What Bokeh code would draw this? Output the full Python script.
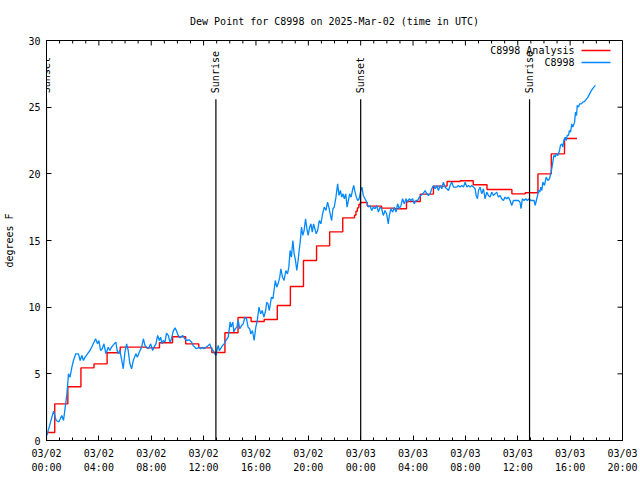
import math
from bokeh.plotting import figure
from bokeh.models import FixedTicker, Range1d, LabelSet, ColumnDataSource
from bokeh.core.properties import value
from bokeh.embed import file_html
from bokeh.resources import INLINE

FONT = "DejaVu Sans Mono"

title_text = "Dew Point for C8998 on 2025-Mar-02 (time in UTC)"
y_label = "degrees F"

# hours since 2025-03-02 00:00 UTC
tick_hours = [0, 4, 8, 12, 16, 20, 24, 28, 32, 36, 40, 44]
tick_labels = ["03/02\n00:00", "03/02\n04:00", "03/02\n08:00", "03/02\n12:00",
               "03/02\n16:00", "03/02\n20:00", "03/03\n00:00", "03/03\n04:00",
               "03/03\n08:00", "03/03\n12:00", "03/03\n16:00", "03/03\n20:00"]
minor_hours = list(range(0, 45))
y_ticks = [0, 5, 10, 15, 20, 25, 30]

event_hours = [0.0, 12.94, 24.0, 36.9]
event_names = ["Sunset", "Sunrise", "Sunset", "Sunrise"]

analysis_hours = [0.0, 0.63, 1.63, 2.63, 3.63, 4.63, 5.63, 6.63, 7.63, 8.63, 9.63,
                  10.63, 11.63, 12.63, 13.63, 14.63, 15.63, 16.63, 17.63, 18.63,
                  19.63, 20.63, 21.63, 22.63, 23.53, 23.64, 23.75, 23.86, 23.97,
                  24.5, 25.6, 26.5, 27.5, 28.55, 29.56, 30.6, 31.6, 32.6, 33.65,
                  34.6, 35.55, 36.57, 37.54, 38.56, 39.57, 40.52]
analysis_dewpt = [0.6, 2.75, 4.03, 5.45, 5.75, 6.58, 7.0, 7.0, 6.95, 7.33, 7.78,
                  7.25, 6.95, 6.6, 8.08, 9.23, 8.93, 9.08, 10.13, 11.55,
                  13.5, 14.6, 15.65, 16.7, 16.9, 17.2, 17.45, 17.7, 17.85,
                  17.58, 17.43, 17.38, 17.93, 18.48, 19.08, 19.43, 19.48, 19.18, 18.83,
                  18.83, 18.5, 18.58, 20.0, 21.5, 22.65, 22.65]

obs_hours = [0.03, 0.54, 0.74, 0.95, 1.17, 1.3, 1.43, 1.56, 1.68, 1.8, 1.94, 2.06,
             2.24, 2.44, 2.57, 2.7, 2.82, 2.95, 3.13, 3.32, 3.45, 3.57, 3.75, 3.9,
             4.0, 4.13, 4.26, 4.39, 4.54, 4.72, 4.84, 4.97, 5.17, 5.3, 5.4, 5.48,
             5.6, 5.73, 5.86, 5.99, 6.12, 6.24, 6.37, 6.5, 6.63, 6.83, 6.94, 7.14,
             7.27, 7.4, 7.52, 7.65, 7.78, 7.96, 8.11, 8.21, 8.36, 8.49, 8.62, 8.72,
             8.82, 8.92, 9.05, 9.17, 9.3, 9.43, 9.55, 9.68, 9.81, 9.94, 10.06, 10.19,
             10.4, 10.57, 10.7, 10.9, 11.08, 11.2, 11.33, 11.46, 11.64, 11.77, 11.92,
             12.02, 12.18, 12.36, 12.48, 12.6, 12.73, 12.86, 12.94, 13.04, 13.12,
             13.2, 13.3, 13.45, 13.58, 13.7, 13.88, 14.03, 14.1, 14.23, 14.31, 14.42,
             14.54, 14.64, 14.77, 14.9, 15.03, 15.15, 15.28, 15.4, 15.53, 15.6,
             15.73, 15.86, 15.99, 16.1, 16.23, 16.36, 16.48, 16.61, 16.74, 16.82,
             16.92, 17.02, 17.18, 17.3, 17.38, 17.48, 17.59, 17.69, 17.82, 17.9,
             18.03, 18.15, 18.28, 18.41, 18.51, 18.61, 18.71, 18.82, 18.92, 19.02,
             19.12, 19.22, 19.3, 19.38, 19.48, 19.58, 19.68, 19.79, 19.89, 19.99,
             20.1, 20.2, 20.3, 20.4, 20.5, 20.6, 20.71, 20.84, 20.96, 21.09, 21.22,
             21.35, 21.47, 21.57, 21.67, 21.78, 21.88, 21.98, 22.11, 22.24, 22.34,
             22.45, 22.55, 22.65, 22.75, 22.86, 22.96, 23.06, 23.16, 23.27, 23.37,
             23.47, 23.57, 23.67, 23.78, 23.88, 23.98, 24.1, 24.2, 24.33, 24.46,
             24.59, 24.71, 24.84, 24.97, 25.1, 25.22, 25.35, 25.48, 25.6, 25.73,
             25.86, 25.98, 26.11, 26.19, 26.31, 26.44, 26.57, 26.7, 26.82, 26.95,
             27.08, 27.2, 27.33, 27.46, 27.58, 27.71, 27.84, 27.97, 28.09, 28.22,
             28.35, 28.48, 28.6, 28.73, 28.84, 28.92, 29.05, 29.18, 29.3, 29.43,
             29.56, 29.69, 29.81, 29.94, 30.07, 30.2, 30.32, 30.45, 30.58, 30.71,
             30.83, 30.96, 31.09, 31.22, 31.34, 31.47, 31.6, 31.73, 31.85, 31.98,
             32.11, 32.24, 32.36, 32.49, 32.62, 32.74, 32.82, 32.92, 33.0, 33.12,
             33.25, 33.38, 33.5, 33.63, 33.76, 33.89, 34.01, 34.14, 34.27, 34.39,
             34.52, 34.65, 34.77, 34.9, 35.03, 35.16, 35.28, 35.41, 35.54, 35.67,
             35.79, 35.92, 36.05, 36.17, 36.25, 36.35, 36.48, 36.61, 36.73, 36.86,
             37.0, 37.11, 37.25, 37.33, 37.42, 37.6, 37.68, 37.76, 37.84, 37.91,
             38.04, 38.17, 38.3, 38.42, 38.55, 38.68, 38.75, 38.86, 38.93, 39.06,
             39.19, 39.26, 39.36, 39.44, 39.52, 39.62, 39.7, 39.78, 39.87, 39.95,
             40.03, 40.13, 40.21, 40.34, 40.41, 40.49, 40.54, 40.64, 40.72, 40.85,
             40.98, 41.11, 41.23, 41.36, 41.49, 41.62, 41.75, 41.93]
obs_dewpt = [0.38, 2.2, 1.5, 1.4, 1.88, 1.5, 2.5, 3.5, 5.0, 4.75, 5.5, 6.0,
             6.5, 6.5, 6.0, 6.38, 6.0, 6.25, 6.5, 6.75, 7.0, 7.25, 7.63, 7.25,
             7.5, 6.75, 6.88, 7.25, 6.5, 7.0, 6.75, 7.0, 7.25, 7.38, 6.75, 6.5,
             6.75, 6.13, 5.38, 6.63, 7.25, 6.75, 5.75, 5.38, 6.0, 6.5, 6.25, 6.75,
             7.0, 7.63, 7.13, 7.0, 6.88, 7.25, 6.75, 7.0, 7.25, 7.88, 7.5, 7.75,
             7.25, 7.5, 7.38, 8.05, 7.88, 7.38, 7.63, 8.2, 8.45, 8.2, 7.88, 7.7,
             7.88, 7.63, 7.5, 7.55, 7.38, 7.13, 7.0, 6.88, 7.0, 6.88, 7.0,
             6.88, 7.0, 7.13, 7.25, 6.88, 6.75, 6.5, 6.38, 6.88, 7.13,
             6.75, 6.88, 7.13, 7.25, 7.5, 7.75, 8.9, 8.5, 8.88, 8.13, 8.38,
             8.5, 9.0, 8.38, 8.63, 8.75, 9.25, 9.13, 8.5, 8.38, 8.0,
             8.25, 7.5, 8.5, 9.0, 10.0, 9.5, 9.75, 9.25, 9.75, 10.37,
             10.25, 9.75, 10.75, 10.63, 11.25, 12.0, 11.5, 11.75, 12.25, 12.88,
             12.25, 12.0, 12.75, 12.5, 13.0, 14.25, 13.75, 15.0, 14.0, 13.5,
             12.75, 13.5, 14.25, 14.88, 16.0, 15.38, 15.75, 16.63, 15.88, 15.38,
             16.0, 16.25, 15.63, 16.25, 15.88, 15.5, 15.75, 16.5, 16.25, 17.0, 17.5,
             17.25, 17.88, 17.5, 17.0, 16.5, 17.38, 17.5, 18.25, 19.25, 18.38,
             18.75, 18.25, 18.5, 18.13, 18.5, 17.5, 18.0, 18.5, 18.25, 18.75,
             19.13, 18.63, 18.25, 18.0, 18.13, 18.63, 19.0, 18.38, 18.13, 17.88,
             17.5, 17.63, 17.25, 17.5, 17.38, 17.63, 17.13, 17.5, 17.38, 16.88,
             17.25, 17.0, 16.25, 16.88, 17.38, 17.13, 17.5, 17.13, 17.75, 17.38,
             17.63, 18.13, 17.75, 18.13, 17.88, 18.13, 18.0, 18.13, 17.75, 18.0,
             18.0, 18.25, 18.38, 18.5, 18.63, 18.75, 18.5, 18.38, 18.5, 18.88,
             19.13, 18.88, 19.13, 18.75, 19.13, 18.88, 19.38, 19.0, 18.88, 18.75,
             19.13, 19.38, 19.0, 19.0, 19.0, 19.13, 19.0, 19.13, 19.0, 19.38,
             19.0, 19.13, 19.0, 19.13, 19.0, 18.88, 18.38, 18.13, 18.75, 19.0,
             18.5, 18.88, 18.13, 18.63, 18.38, 18.25, 18.63, 18.38, 18.5, 18.63,
             18.25, 18.38, 18.13, 18.0, 18.25, 18.13, 18.25, 18.0, 17.63, 18.0,
             18.0, 18.0, 18.0, 17.88, 17.38, 18.13, 18.0, 18.13, 18.0, 18.13,
             18.0, 18.0, 18.0, 17.63, 18.0, 18.75, 18.63, 19.0, 18.75, 19.38,
             19.13, 19.75, 19.5, 19.63, 20.13, 20.88, 21.38, 21.25, 21.5, 21.38,
             21.75, 22.13, 22.25, 22.0, 22.5, 22.75, 22.5, 22.88, 22.88, 23.25,
             23.13, 23.75, 23.5, 23.88, 24.63, 24.38, 25.13, 25.0, 25.25, 25.25,
             25.38, 25.43, 25.58, 25.75, 26.0, 26.25, 26.43, 26.63]

series_names = ["C8998 Analysis", "C8998"]
series_colors = ["#ff0000", "#0088ff"]

X0, X1, Y0, Y1 = 0, 44, 0, 30
W, H = 640, 480
BL, BR, BT, BB = 46, 18, 40, 40
px_x = (W - BL - BR) / (X1 - X0)   # pixels per hour
px_y = (H - BT - BB) / (Y1 - Y0)   # pixels per degree

p = figure(width=W, height=H, x_range=Range1d(X0, X1), y_range=Range1d(Y0, Y1),
           output_backend="svg", toolbar_location=None,
           min_border_left=BL, min_border_right=BR, min_border_top=BT, min_border_bottom=BB)
p.background_fill_color = "white"
p.border_fill_color = "white"
p.outline_line_color = "black"
p.outline_line_width = 1
p.grid.visible = False

p.title.text = title_text
p.title.align = "center"
p.title.text_font = FONT
p.title.text_font_size = "10px"
p.title.text_font_style = "normal"
p.title.text_color = "black"
p.title.standoff = 27

xt = FixedTicker(ticks=tick_hours, minor_ticks=minor_hours)
yt = FixedTicker(ticks=y_ticks, minor_ticks=[])

ax = p.xaxis[0]
ax.ticker = xt
ax.major_label_overrides = {h: l for h, l in zip(tick_hours, tick_labels)}
ay = p.yaxis[0]
ay.ticker = yt
ay.axis_label = y_label

for a in (ax, ay):
    a.major_label_text_font = FONT
    a.major_label_text_font_size = "10px"
    a.axis_label_text_font = FONT
    a.axis_label_text_font_size = "10px"
    a.axis_label_text_font_style = "normal"
    a.axis_label_text_color = "black"
    a.major_tick_in = 5
    a.major_tick_out = 0
    a.minor_tick_in = 3
    a.minor_tick_out = 0
    a.axis_line_color = "black"
    a.major_tick_line_color = "black"
    a.minor_tick_line_color = "black"
    a.major_label_text_color = "black"

ax.major_label_standoff = 7
ax.major_label_text_line_height = 1.35
ay.major_label_standoff = 6
ay.axis_label_standoff = 10

# mirrored ticks on the top and right borders (gnuplot style)
top_major = [h for h in tick_hours]
top_minor = [h for h in minor_hours if h not in tick_hours]
p.segment(x0=top_major, y0=[Y1] * len(top_major), x1=top_major,
          y1=[Y1 - 5 / px_y] * len(top_major), line_color="black", line_width=1)
p.segment(x0=top_minor, y0=[Y1] * len(top_minor), x1=top_minor,
          y1=[Y1 - 3 / px_y] * len(top_minor), line_color="black", line_width=1)
p.segment(x0=[X1] * len(y_ticks), y0=y_ticks, x1=[X1 - 5 / px_x] * len(y_ticks),
          y1=y_ticks, line_color="black", line_width=1)

# analysis (stepped) and observations
p.step(analysis_hours, analysis_dewpt, mode="after", line_color=series_colors[0], line_width=1.4)
p.line(obs_hours, obs_dewpt, line_color=series_colors[1], line_width=1.3)

# sunrise / sunset markers
ev_top = 25.6
p.segment(x0=event_hours, y0=[Y0] * len(event_hours), x1=event_hours,
          y1=[ev_top] * len(event_hours), line_color="black", line_width=1.2)
ev_src = ColumnDataSource(dict(x=event_hours, y=[ev_top + 6 / px_y] * len(event_hours),
                               t=event_names))
p.add_layout(LabelSet(x="x", y="y", text="t", source=ev_src, angle=math.pi / 2,
                      text_align="left", text_baseline="middle", text_font=value(FONT),
                      text_font_size=value("10px"), text_color="black"))

# legend (gnuplot style: text, then sample line)
leg_y = [Y1 - 10 / px_y, Y1 - 22 / px_y]
leg_text_x = X1 - 48 / px_x
leg_x0 = X1 - 41 / px_x
leg_x1 = X1 - 12 / px_x
p.text(x=[leg_text_x] * 2, y=leg_y, text=series_names, text_align="right",
       text_baseline="middle", text_font=value(FONT), text_font_size="10px",
       text_color="black")
p.segment(x0=[leg_x0] * 2, y0=leg_y, x1=[leg_x1] * 2, y1=leg_y,
          line_color=series_colors, line_width=1.3)

open("out.html", "w").write(file_html(p, INLINE))
